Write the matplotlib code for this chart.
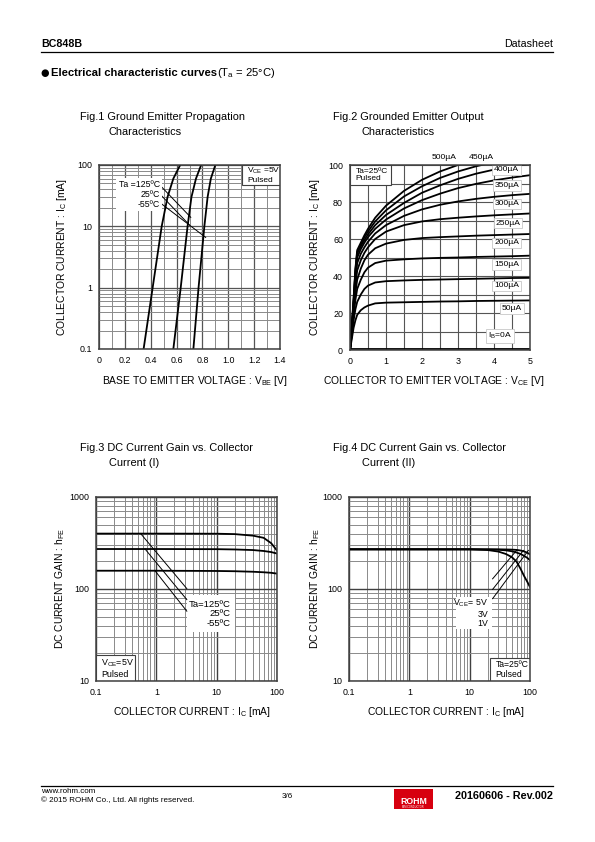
import matplotlib
matplotlib.use('Agg')
import matplotlib.pyplot as plt
from matplotlib.ticker import FixedLocator, FixedFormatter, NullFormatter
from matplotlib.patches import Rectangle

plt.rcParams['font.family'] = ['Liberation Sans', 'DejaVu Sans']
plt.rcParams['mathtext.fontset'] = 'custom'
plt.rcParams['mathtext.rm'] = 'Liberation Sans'
plt.rcParams['mathtext.it'] = 'Liberation Sans'
plt.rcParams['mathtext.bf'] = 'Liberation Sans:bold'

# ---------------- data ----------------
# Fig.1  VBE [V] vs IC [mA]
fig1_ic = [0.1, 1, 10, 30, 60, 100]
fig1_vbe_125 = [0.345, 0.415, 0.485, 0.53, 0.575, 0.628]
fig1_vbe_25 = [0.575, 0.632, 0.685, 0.715, 0.75, 0.79]
fig1_vbe_m55 = [0.73, 0.77, 0.815, 0.84, 0.865, 0.9]
fig1_xticks = [0, 0.2, 0.4, 0.6, 0.8, 1.0, 1.2, 1.4]
fig1_xlabels = ['0', '0.2', '0.4', '0.6', '0.8', '1.0', '1.2', '1.4']
fig1_yticks = [0.1, 1, 10, 100]
fig1_ylabels = ['0.1', '1', '10', '100']
fig1_temps = ['Ta =125ºC', '25ºC', '-55ºC']

# Fig.2  VCE [V] vs IC [mA] for several IB
fig2_vce = [0, 0.05, 0.1, 0.15, 0.2, 0.3, 0.4, 0.5, 0.7, 1.0, 1.5, 2.0, 2.5, 3.0, 3.5, 4.0, 4.5, 5.0]
fig2_ib_labels = ['50µA', '100µA', '150µA', '200µA', '250µA', '300µA', '350µA', '400µA', '450µA', '500µA']
fig2_ic = [
    [0, 6, 12, 16, 19, 21.5, 23, 24, 25.2, 25.6, 25.8, 26, 26.2, 26.3, 26.5, 26.6, 26.7, 26.8],
    [0, 8, 16, 22, 26, 30, 33, 34.8, 36.5, 37.2, 37.6, 37.9, 38.1, 38.3, 38.5, 38.7, 38.9, 39],
    [0, 9, 19, 27, 33, 38, 42, 44.5, 47, 48.3, 49, 49.5, 49.8, 50, 50.3, 50.5, 50.7, 51],
    [0, 10, 21, 31, 38, 44, 48.5, 51.5, 55, 57.5, 59.5, 60.5, 61, 61.4, 61.8, 62.1, 62.4, 62.7],
    [0, 11, 23, 35, 43, 48.5, 52.5, 55.5, 60, 64, 67.5, 69.5, 70.7, 71.5, 72.2, 72.8, 73.3, 73.8],
    [0, 11, 24, 38, 47, 52, 55.5, 58.5, 63, 67.5, 72.5, 76, 78.5, 80.3, 81.7, 82.8, 83.7, 84.4],
    [0, 12, 25, 40, 50, 54.5, 58, 61, 65.5, 70.5, 76.5, 81, 84.5, 87.5, 89.8, 91.7, 93.2, 94.5],
    [0, 12, 26, 42, 52, 56, 59.5, 62.5, 67.5, 73, 79.5, 85, 89, 92.5, 95.3, 97.5, 99.2, 100.5],
    [0, 12.5, 27, 43, 53, 57, 61, 64, 69.5, 75.5, 83, 88.5, 93, 96.5, 99.3, 101.5, 103, 104],
    [0, 13, 28, 44, 54, 58, 62, 65.5, 71.5, 78, 86, 92, 96.5, 100, 102.5, 104.5, 106, 107],
]
fig2_ib0_ic = [0.4, 0.4]
fig2_ib0_vce = [0, 5]
fig2_xticks = [0, 1, 2, 3, 4, 5]
fig2_yticks = [0, 20, 40, 60, 80, 100]

# Fig.3  hFE vs IC, temperatures
fig3_ic = [0.1, 1, 10, 20, 40, 60, 80, 100]
fig3_hfe_125 = [400, 400, 399, 395, 380, 360, 315, 262]
fig3_hfe_25 = [272, 272, 271, 269, 265, 259, 252, 243]
fig3_hfe_m55 = [158, 158, 157, 156, 154, 152, 150, 147]
fig3_temps = ['Ta=125ºC', '25ºC', '-55ºC']

# Fig.4  hFE vs IC, VCE
fig4_ic = [0.1, 1, 10, 20, 30, 40, 50, 60, 70, 80, 90, 100]
fig4_hfe_5v = [270, 270, 270, 270, 270, 269, 268, 266, 262, 256, 248, 238]
fig4_hfe_3v = [270, 270, 270, 269, 267, 263, 257, 249, 240, 229, 218, 206]
fig4_hfe_1v = [270, 270, 270, 265, 255, 240, 222, 198, 165, 138, 120, 105]
fig4_vce = ['V$_{\\rm CE}$= 5V', '3V', '1V']

log_xticks = [0.1, 1, 10, 100]
log_xlabels = ['0.1', '1', '10', '100']
hfe_yticks = [10, 100, 1000]
hfe_ylabels = ['10', '100', '1000']

# ---------------- figure ----------------
W, H = 595, 842
fig = plt.figure(figsize=(W / 100, H / 100), dpi=100)


def fx(x):
    return x / W


def fy(y):
    return 1 - y / H


def make_axes(x0, y0, x1, y1):
    ax = fig.add_axes([fx(x0), fy(y1), (x1 - x0) / W, (y1 - y0) / H])
    for s in ax.spines.values():
        s.set_color('#404040')
        s.set_linewidth(1.1)
        s.set_zorder(10)
    ax.tick_params(which='both', length=0, labelsize=6.4, pad=5, colors='black')
    return ax


MAJ = dict(color='#555555', lw=0.9)
MIN = dict(color='#8a8a8a', lw=0.7)
CURVE = dict(color='black', lw=1.3, solid_capstyle='round')
TS = 7.9   # title / label size


def corner_box(ax, x0, y0, w, h, text, size=6.2):
    ax.add_patch(Rectangle((x0, y0), w, h, transform=ax.transAxes, fc='white',
                           ec='#404040', lw=0.8, zorder=8))
    ax.text(x0 + 0.03, y0 + h / 2, text, transform=ax.transAxes, fontsize=size,
            va='center', ha='left', zorder=9, linespacing=1.15)


# ---- page header ----
fig.text(fx(41), fy(44), 'BC848B', fontsize=7.7, fontweight='bold', va='center')
fig.text(fx(553), fy(44), 'Datasheet', fontsize=7.7, va='center', ha='right')
fig.add_artist(plt.Line2D([fx(41), fx(553)], [fy(51.5), fy(51.5)], color='black', lw=0.9))
fig.text(fx(40), fy(73), '●', fontsize=7, va='center', family=['DejaVu Sans'])
fig.text(fx(51), fy(73), 'Electrical characteristic curves', fontsize=8.1,
         fontweight='bold', va='center')
fig.text(fx(217), fy(73), '(T$_{\\rm a}$ = 25°C)', fontsize=8.1, va='center')

# ---- footer ----
fig.add_artist(plt.Line2D([fx(41), fx(553)], [fy(786), fy(786)], color='black', lw=0.9))
fig.text(fx(41), fy(791.5), 'www.rohm.com', fontsize=5.8, va='center')
fig.text(fx(41), fy(800), '© 2015 ROHM Co., Ltd. All rights reserved.', fontsize=5.8, va='center')
fig.text(fx(287), fy(796), '3/6', fontsize=5.8, va='center', ha='center')
fig.add_artist(Rectangle((fx(394), fy(809)), 39 / W, 20 / H, transform=fig.transFigure,
                         fc='#d7000f', ec='none'))
fig.text(fx(413.5), fy(801), 'ROHM', fontsize=6.3, fontweight='bold', color='white',
         va='center', ha='center')
fig.text(fx(413.5), fy(806.5), 'SEMICONDUCTOR', fontsize=1.8, color='white',
         va='center', ha='center')
fig.text(fx(553), fy(796), '20160606 - Rev.002', fontsize=7.8, fontweight='bold',
         va='center', ha='right')

# ---- figure titles ----
fig.text(fx(80), fy(117), 'Fig.1 Ground Emitter Propagation', fontsize=TS, va='center')
fig.text(fx(109), fy(132), 'Characteristics', fontsize=TS, va='center')
fig.text(fx(333), fy(117), 'Fig.2 Grounded Emitter Output', fontsize=TS, va='center')
fig.text(fx(362), fy(132), 'Characteristics', fontsize=TS, va='center')
fig.text(fx(80), fy(448), 'Fig.3 DC Current Gain vs. Collector', fontsize=TS, va='center')
fig.text(fx(109), fy(463), 'Current (I)', fontsize=TS, va='center')
fig.text(fx(333), fy(448), 'Fig.4 DC Current Gain vs. Collector', fontsize=TS, va='center')
fig.text(fx(362), fy(463), 'Current (II)', fontsize=TS, va='center')

# ---- axis labels ----
AL = 7.4
fig.text(fx(62), fy(257), 'COLLECTOR CURRENT : I$_{\\rm C}$ [mA]', fontsize=AL,
         rotation=90, va='center', ha='center')
fig.text(fx(315), fy(257), 'COLLECTOR CURRENT : I$_{\\rm C}$ [mA]', fontsize=AL,
         rotation=90, va='center', ha='center')
fig.text(fx(60), fy(589), 'DC CURRENT GAIN : h$_{\\rm FE}$', fontsize=AL,
         rotation=90, va='center', ha='center')
fig.text(fx(315), fy(589), 'DC CURRENT GAIN : h$_{\\rm FE}$', fontsize=AL,
         rotation=90, va='center', ha='center')
fig.text(fx(195), fy(381), 'BASE TO EMITTER VOLTAGE : V$_{\\rm BE}$ [V]', fontsize=AL,
         va='center', ha='center')
fig.text(fx(434), fy(381), 'COLLECTOR TO EMITTER VOLTAGE : V$_{\\rm CE}$ [V]', fontsize=AL,
         va='center', ha='center')
fig.text(fx(192), fy(712), 'COLLECTOR CURRENT : I$_{\\rm C}$ [mA]', fontsize=AL,
         va='center', ha='center')
fig.text(fx(446), fy(712), 'COLLECTOR CURRENT : I$_{\\rm C}$ [mA]', fontsize=AL,
         va='center', ha='center')

# ================= Fig.1 =================
ax1 = make_axes(99, 165, 280, 349)
ax1.set_yscale('log')
ax1.set_xlim(0, 1.4)
ax1.set_ylim(0.1, 100)
ax1.xaxis.set_major_locator(FixedLocator(fig1_xticks))
ax1.xaxis.set_major_formatter(FixedFormatter(fig1_xlabels))
ax1.xaxis.set_minor_locator(FixedLocator([0.1, 0.3, 0.5, 0.7, 0.9, 1.1, 1.3]))
ax1.yaxis.set_major_locator(FixedLocator(fig1_yticks))
ax1.yaxis.set_major_formatter(FixedFormatter(fig1_ylabels))
ax1.yaxis.set_minor_locator(FixedLocator([m * d for d in (0.1, 1, 10) for m in range(2, 10)]))
ax1.yaxis.set_minor_formatter(NullFormatter())
ax1.grid(which='major', **MAJ)
ax1.grid(which='minor', **MIN)
ax1.set_axisbelow(True)
for v in (fig1_vbe_125, fig1_vbe_25, fig1_vbe_m55):
    ax1.plot(v, fig1_ic, zorder=4, **CURVE)
ax1.text(0.47, 33, '\n'.join(fig1_temps), fontsize=6.3, ha='right', va='center',
         multialignment='right', linespacing=1.1, zorder=6,
         bbox=dict(boxstyle='square,pad=0.25', fc='white', ec='none'))
for (xa, ya), (xb, yb) in [((0.475, 46), (0.71, 14)),
                           ((0.475, 33), (0.70, 10.5)),
                           ((0.475, 24), (0.825, 6.6))]:
    ax1.plot([xa, xb], [ya, yb], color='black', lw=0.7, zorder=5)
corner_box(ax1, 0.79, 0.891, 0.21, 0.109, 'V$_{\\rm CE}$ =5V\nPulsed', size=6.0)

# ================= Fig.2 =================
ax2 = make_axes(350, 165, 530, 350)
ax2.set_xlim(0, 5)
ax2.set_ylim(0, 100)
ax2.xaxis.set_major_locator(FixedLocator(fig2_xticks))
ax2.yaxis.set_major_locator(FixedLocator(fig2_yticks))
ax2.xaxis.set_minor_locator(FixedLocator([0.5, 1.5, 2.5, 3.5, 4.5]))
ax2.yaxis.set_minor_locator(FixedLocator([10, 30, 50, 70, 90]))
ax2.grid(which='both', color='#555555', lw=0.8)
ax2.set_axisbelow(True)
for ic in fig2_ic:
    ax2.plot(fig2_vce, ic, zorder=4, **CURVE)
ax2.plot(fig2_ib0_vce, fig2_ib0_ic, zorder=4, **CURVE)
lab_y = [22.5, 34.6, 46.3, 58, 68.5, 79, 89, 97.3]
lab_x = [4.5, 4.35, 4.35, 4.35, 4.38, 4.35, 4.35, 4.35]
for i in range(8):
    ax2.text(lab_x[i], lab_y[i], fig2_ib_labels[i], fontsize=6.1, ha='center', va='center',
             zorder=6, bbox=dict(boxstyle='square,pad=0.2', fc='white', ec='#c8c8c8', lw=0.6))
ax2.text(4.17, 7.5, 'I$_{\\rm B}$=0A', fontsize=6.1, ha='center', va='center', zorder=6,
         bbox=dict(boxstyle='square,pad=0.2', fc='white', ec='#c8c8c8', lw=0.6))
ax2.text(2.6, 104, fig2_ib_labels[9], fontsize=6.1, ha='center', va='center', clip_on=False)
ax2.text(3.65, 104, fig2_ib_labels[8], fontsize=6.1, ha='center', va='center', clip_on=False)
corner_box(ax2, 0.0, 0.892, 0.228, 0.108, 'Ta=25ºC\nPulsed', size=6.0)

# ================= Fig.3 / Fig.4 common =================


def hfe_axes(x0, x1):
    ax = make_axes(x0, 497, x1, 681)
    ax.set_xscale('log')
    ax.set_yscale('log')
    ax.set_xlim(0.1, 100)
    ax.set_ylim(10, 1000)
    ax.xaxis.set_major_locator(FixedLocator(log_xticks))
    ax.xaxis.set_major_formatter(FixedFormatter(log_xlabels))
    ax.xaxis.set_minor_locator(FixedLocator([m * d for d in (0.1, 1, 10) for m in range(2, 10)]))
    ax.xaxis.set_minor_formatter(NullFormatter())
    ax.yaxis.set_major_locator(FixedLocator(hfe_yticks))
    ax.yaxis.set_major_formatter(FixedFormatter(hfe_ylabels))
    ax.yaxis.set_minor_locator(FixedLocator([m * d for d in (10, 100) for m in range(2, 10)]))
    ax.yaxis.set_minor_formatter(NullFormatter())
    ax.grid(which='major', color='#404040', lw=1.0)
    ax.grid(which='minor', **MIN)
    ax.set_axisbelow(True)
    return ax


# ================= Fig.3 =================
ax3 = hfe_axes(96, 277)
for h in (fig3_hfe_125, fig3_hfe_25, fig3_hfe_m55):
    ax3.plot(fig3_ic, h, zorder=4, **CURVE)
ax3.add_patch(Rectangle((0.5, 0.265), 0.27, 0.2, transform=ax3.transAxes, fc='white',
                        ec='none', zorder=5))
ax3.text(0.745, 0.365, '\n'.join(fig3_temps), transform=ax3.transAxes, fontsize=6.8,
         ha='right', va='center', multialignment='right', linespacing=1.1, zorder=6)
for (xa, ya), (xb, yb) in [((0.55, 400), (3.2, 101)),
                           ((0.65, 272), (3.2, 76.6)),
                           ((0.95, 158), (3.2, 57.4))]:
    ax3.plot([xa, xb], [ya, yb], color='black', lw=0.7, zorder=5)
corner_box(ax3, 0.0, 0.0, 0.215, 0.141, 'V$_{\\rm CE}$=5V\nPulsed', size=6.4)

# ================= Fig.4 =================
ax4 = hfe_axes(349, 530)
for h in (fig4_hfe_5v, fig4_hfe_3v, fig4_hfe_1v):
    ax4.plot(fig4_ic, h, zorder=4, **CURVE)
ax4.add_patch(Rectangle((0.59, 0.285), 0.2, 0.17, transform=ax4.transAxes, fc='white',
                        ec='none', zorder=5))
ax4.text(0.77, 0.37, '\n'.join(fig4_vce), transform=ax4.transAxes, fontsize=6.3,
         ha='right', va='center', multialignment='right', linespacing=1.1, zorder=6)
for (xa, ya), (xb, yb) in [((24, 129), (60, 263)),
                           ((24, 99), (78, 263)),
                           ((24, 78.5), (94, 263))]:
    ax4.plot([xa, xb], [ya, yb], color='black', lw=0.7, zorder=5)
corner_box(ax4, 0.78, 0.0, 0.22, 0.125, 'Ta=25ºC\nPulsed', size=6.2)

fig.savefig('out.png', dpi=100)
